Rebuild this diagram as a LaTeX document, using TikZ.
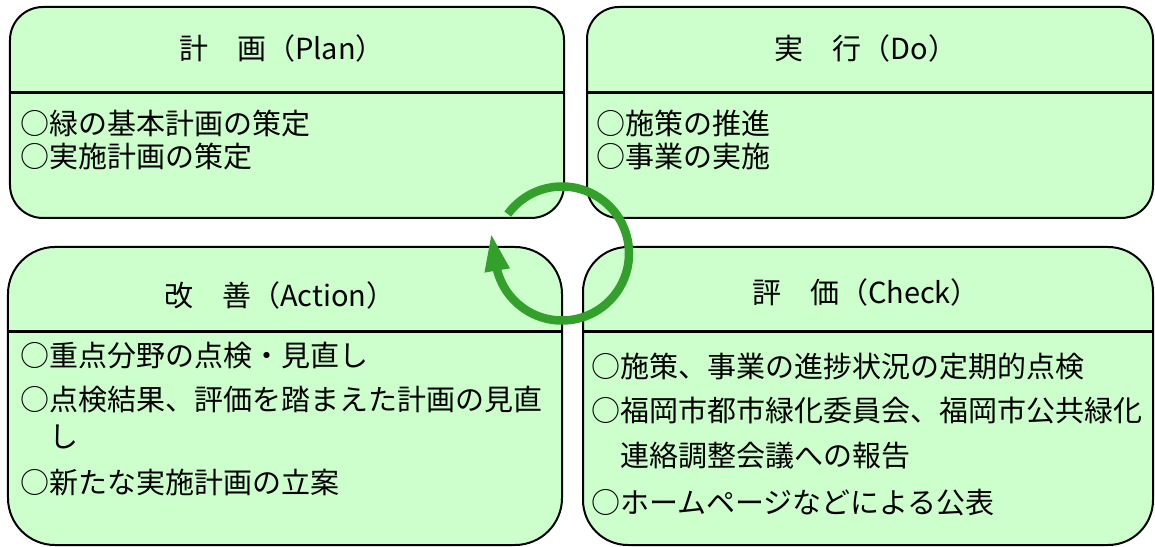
\documentclass[tikz,border=0pt]{standalone}
\usepackage{fontspec}
\newfontfamily\jp{Noto Sans CJK JP}
\usetikzlibrary{arrows.meta}
\definecolor{boxfill}{HTML}{CCFFCC}
\definecolor{cyclegreen}{HTML}{33A02C}
\begin{document}
\begin{tikzpicture}[x=1bp,y=-1bp,
  box/.style={draw=black, line width=2bp, fill=boxfill, rectangle, inner sep=0pt, outer sep=0pt},
  divider/.style={line width=3bp},
  title/.style={font=\jp\fontsize{29bp}{33bp}\selectfont, inner sep=0pt, text height=0.88em, text depth=0.12em, yshift=-7bp},
  item/.style={title, anchor=west},
  cycle/.style={cyclegreen, line width=8.5bp, -{Triangle[length=38bp,width=23bp]}}
]
\useasboundingbox (0,0) rectangle (1155,547);

% boxes
\node[box, rounded corners=33bp, minimum width=554bp, minimum height=211bp] (plan) at (287,112.5) {};
\node[box, rounded corners=32bp, minimum width=566bp, minimum height=211bp] (do) at (870,112.5) {};
\node[box, rounded corners=47bp, minimum width=554bp, minimum height=298bp] (act) at (285,396) {};
\node[box, rounded corners=45bp, minimum width=570bp, minimum height=298bp] (chk) at (868,396) {};

% dividers
\draw[divider] (plan.west |- 0,93) -- (plan.east |- 0,93);
\draw[divider] (do.west |- 0,93) -- (do.east |- 0,93);
\draw[divider] (act.west |- 0,332) -- (act.east |- 0,332);
\draw[divider] (chk.west |- 0,332) -- (chk.east |- 0,332);

% titles
\node[title] (plant) at (282,49) {計　画（Plan）};
\node[title] (dot) at (866,49) {実　行（Do）};
\node[title] (actt) at (280,296) {改　善（Action）};
\node[title] (chkt) at (866,293) {評　価（Check）};

% items
\node[item] (plan1) at (20,124) {○緑の基本計画の策定};
\node[item] (plan2) at (20,157) {○実施計画の策定};
\node[item] (do1) at (596,124) {○施策の推進};
\node[item] (do2) at (596,157) {○事業の実施};
\node[item] (act1) at (20,356) {○重点分野の点検・見直し};
\node[item] (act2) at (20,400) {○点検結果、評価を踏まえた計画の見直};
\node[item] (act3) at (49,437) {し};
\node[item] (act4) at (20,483) {○新たな実施計画の立案};
\node[item] (chk1) at (591,367) {○施策、事業の進捗状況の定期的点検};
\node[item] (chk2) at (591,411) {○福岡市都市緑化委員会、福岡市公共緑化};
\node[item] (chk3) at (620,456) {連絡調整会議への報告};
\node[item] (chk4) at (591,503) {○ホームページなどによる公表};

% PDCA cycle arrow
\coordinate (cyc) at (562,253.5);
\coordinate (cyctip) at (491,233);
\draw[cycle] ([shift={(-144:67)}]cyc) arc[start angle=-144, end angle=165, radius=67] -- (cyctip);
\end{tikzpicture}
\end{document}
